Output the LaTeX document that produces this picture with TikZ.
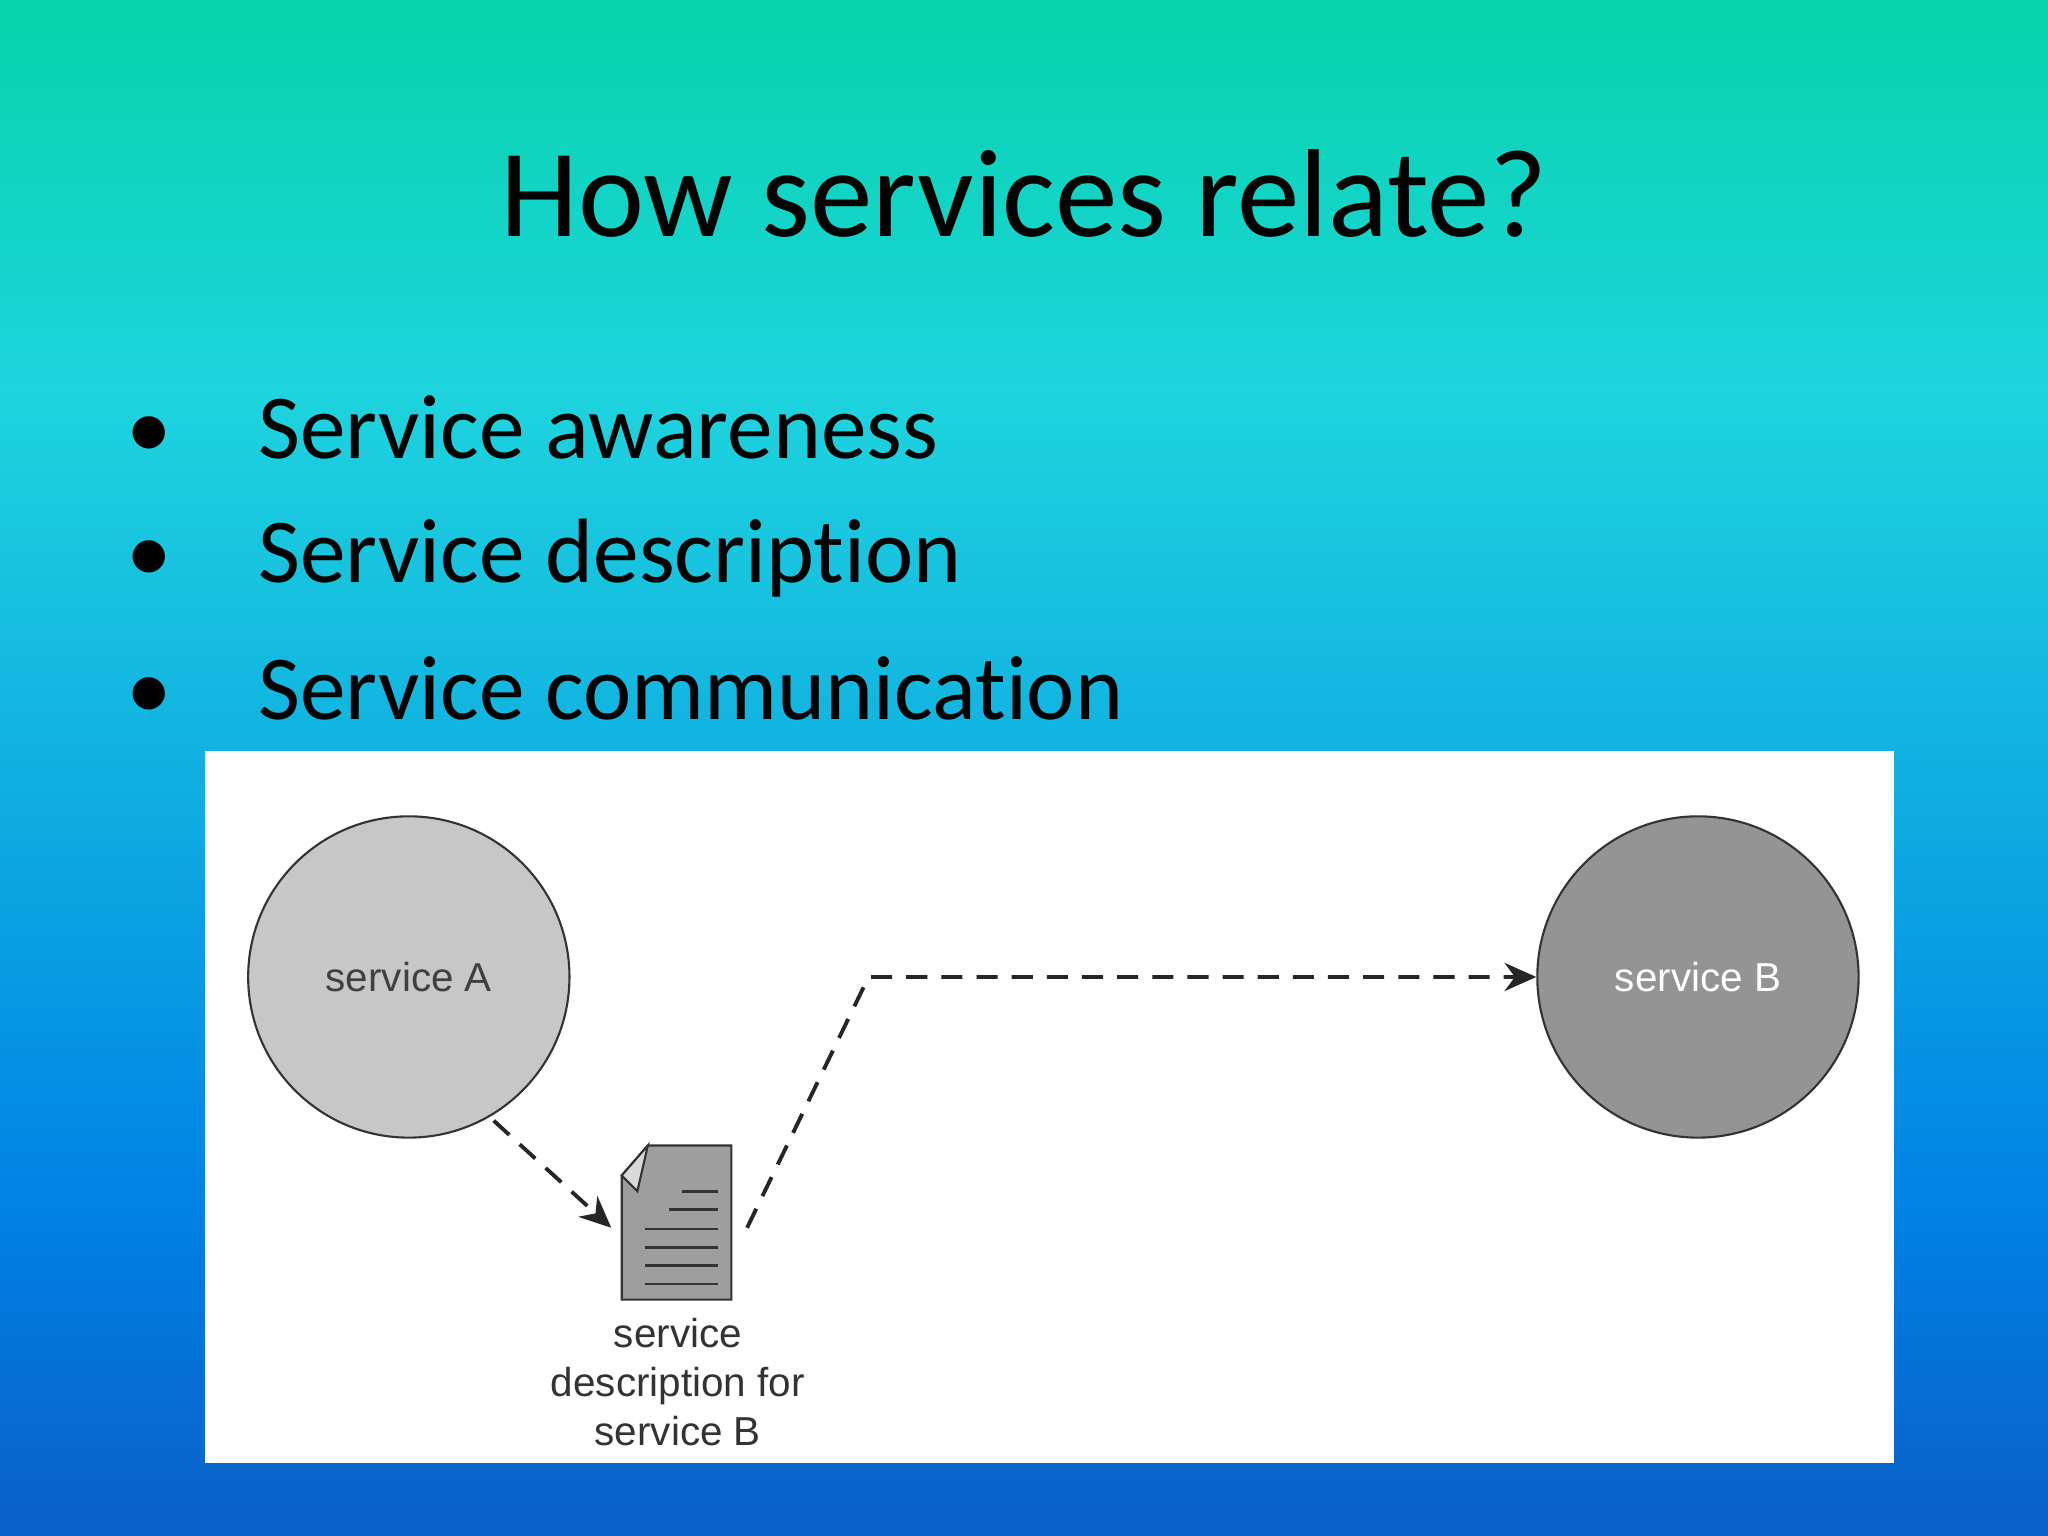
\documentclass[tikz,border=0pt]{standalone}
\usepackage{fontspec}
\setmainfont{Carlito}[Ligatures={NoCommon,NoRare}]
\newfontfamily\diag{Liberation Sans}
\usetikzlibrary{arrows.meta}
\begin{document}
\begin{tikzpicture}[x=0.013061cm,y=-0.013061cm,
  circ/.style={circle,draw=black!80,line width=0.6pt,minimum size=246*0.013061cm,font=\diag\fontsize{11.5}{13}\selectfont},
  dashline/.style={dash pattern=on 6pt off 4pt,line width=1.1pt,black!85},
  tip/.style={-{Stealth[length=9pt,width=8pt]}}]
\useasboundingbox (0,0) rectangle (1568,1176);
\definecolor{c0}{RGB}{5,212,170}
\definecolor{c1}{RGB}{30,212,222}
\definecolor{c2}{RGB}{15,175,225}
\definecolor{c3}{RGB}{0,130,230}
\definecolor{c4}{RGB}{10,95,200}
\shade[top color=c0,bottom color=c1] (0,0) rectangle (1568,300);
\shade[top color=c1,bottom color=c2] (0,299) rectangle (1568,600);
\shade[top color=c2,bottom color=c3] (0,599) rectangle (1568,920);
\shade[top color=c3,bottom color=c4] (0,919) rectangle (1568,1176);
\node[font=\fontsize{35.6}{42}\selectfont] (title) at (784,148) {How services relate?};
\foreach \y/\t [count=\i] in {327/Service awareness,427/Service description,527/Service communication}{
  \node[anchor=west,font=\fontsize{26}{31}\selectfont,inner sep=0pt] (b\i) at (96,\y) {\textbullet\hspace{0.95em}\t};}
\fill[white] (157,575) rectangle (1450,1120);
\node[circ,fill=black!22,text=black!75] (A) at (313,748) {service A};
\node[circ,fill=black!42,text=white] (B) at (1300,748) {service B};
\draw[fill=black!38,draw=black!80,line width=0.6pt] (496,877) -- (560,877) -- (560,995) -- (476,995) -- (476,900) -- cycle;
\draw[fill=black!15,draw=black!80,line width=0.6pt] (476,900) -- (496,877) -- (488,912) -- cycle;
\foreach \yy/\xa in {912/522,926/512,941/494,955/494,969/494,983/494}
  \draw[black!80,line width=0.8pt] (\xa,\yy) -- (550,\yy);
\node[font=\diag\fontsize{11.5}{14}\selectfont,align=center,text=black!80] (lab) at (519,1058) {service\\description for\\service B};
\coordinate (a1) at (378,858);
\coordinate (d1) at (468,940);
\coordinate (d2) at (572,940);
\coordinate (bend) at (665,748);
\draw[dashline,tip] (a1) -- (d1);
\draw[dashline,tip] (d2) -- (bend) -- (B.west);
\end{tikzpicture}
\end{document}
